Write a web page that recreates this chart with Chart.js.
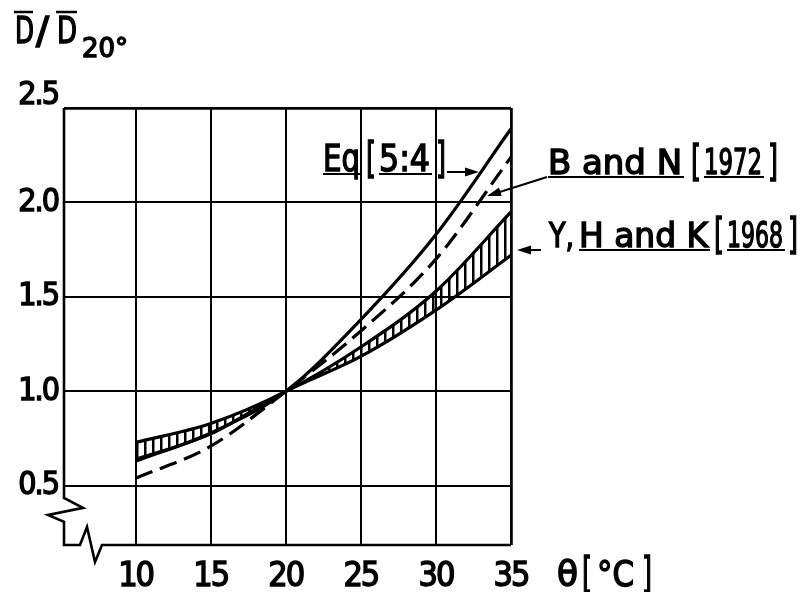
<!DOCTYPE html>
<html>
<head>
<meta charset="utf-8">
<script src="https://cdn.jsdelivr.net/npm/chart.js@4.4.1/dist/chart.umd.min.js"></script>
<style>
  html, body { margin: 0; padding: 0; background: #fff; }
</style>
</head>
<body>
<canvas id="chart" width="808" height="592"></canvas>
<script>
// temperature (°C) and D / D20 ratios
const temps = [10, 15, 20, 25, 30, 35];
const eqModel = [0.63, 0.78, 1.0, 1.38, 1.83, 2.39];     // Eq [5:4]
const bnValues = [0.54, 0.71, 1.0, 1.32, 1.70, 2.24];    // B and N [1972]
const yhkUpper = [0.73, 0.83, 1.0, 1.235, 1.53, 1.95];   // Y, H and K [1968] upper bound
const yhkLower = [0.64, 0.775, 1.0, 1.185, 1.43, 1.72];  // Y, H and K [1968] lower bound

const tempTicks = [10, 15, 20, 25, 30, 35];
const ratioTicks = [0.5, 1.0, 1.5, 2.0, 2.5];

const FONT = "'DejaVu Sans Condensed', 'DejaVu Sans', sans-serif";

function points(xs, ys) {
  return xs.map((x, i) => ({ x: x, y: ys[i] }));
}

// vertical hatching for the Y, H and K band
function makeHatch() {
  const c = document.createElement('canvas');
  c.width = 8; c.height = 8;
  const g = c.getContext('2d');
  g.fillStyle = '#000';
  g.fillRect(0, 0, 2.5, 8);
  return g.createPattern(c, 'repeat');
}

function arrow(ctx, x1, y1, x2, y2) {
  const a = Math.atan2(y2 - y1, x2 - x1);
  const len = 14, half = 4.5;
  ctx.beginPath();
  ctx.moveTo(x1, y1);
  ctx.lineTo(x2 - Math.cos(a) * len * 0.6, y2 - Math.sin(a) * len * 0.6);
  ctx.stroke();
  ctx.beginPath();
  ctx.moveTo(x2, y2);
  ctx.lineTo(x2 - Math.cos(a) * len - Math.sin(a) * half, y2 - Math.sin(a) * len + Math.cos(a) * half);
  ctx.lineTo(x2 - Math.cos(a) * len + Math.sin(a) * half, y2 - Math.sin(a) * len - Math.cos(a) * half);
  ctx.closePath();
  ctx.fill();
}

// text squeezed or stretched to run from x0 to x1, optionally underlined
function part(ctx, text, x0, x1, base, underline, size) {
  ctx.save();
  if (size) ctx.font = size + 'px ' + FONT;
  const w = ctx.measureText(text).width;
  ctx.lineWidth = 1.4;
  ctx.translate(x0, base);
  ctx.scale((x1 - x0) / w, 1);
  ctx.strokeText(text, 0, 0);
  ctx.fillText(text, 0, 0);
  ctx.restore();
  if (underline) {
    ctx.save();
    ctx.lineWidth = 2;
    ctx.beginPath();
    ctx.moveTo(x0, base + underline);
    ctx.lineTo(x1 + 2, base + underline);
    ctx.stroke();
    ctx.restore();
  }
}

// "[" and "]" drawn taller than the letters
function brackets(ctx, x0, x1, x2, x3, base) {
  part(ctx, '[', x0, x0 + 10, base + 2, 0, 42);
  part(ctx, ']', x3 - 10, x3, base + 2, 0, 42);
}

const decorations = {
  id: 'decorations',
  beforeDraw(chart) {
    chart.ctx.letterSpacing = '-2px';
  },
  afterDraw(chart) {
    const ctx = chart.ctx;
    const { left, right, bottom } = chart.chartArea;
    const y05 = chart.scales.y.getPixelForValue(0.5);

    ctx.save();
    ctx.letterSpacing = '0px';
    ctx.strokeStyle = '#000';
    ctx.fillStyle = '#000';
    ctx.lineWidth = 2.6;
    ctx.lineJoin = 'miter';

    // left axis with break, then bottom axis with break
    ctx.beginPath();
    ctx.moveTo(left, chart.chartArea.top);
    ctx.lineTo(left, y05 + 12);
    ctx.lineTo(left + 19, y05 + 22);
    ctx.lineTo(left - 16, y05 + 29);
    ctx.lineTo(left, y05 + 36);
    ctx.lineTo(left, bottom);
    ctx.lineTo(left + 16, bottom);
    ctx.lineTo(left + 23, bottom - 18);
    ctx.lineTo(left + 31, bottom + 17);
    ctx.lineTo(left + 38, bottom);
    ctx.lineTo(right, bottom);
    ctx.stroke();

    ctx.textBaseline = 'alphabetic';
    ctx.textAlign = 'left';

    // y axis title  D/D 20°
    ctx.font = '37px ' + FONT;
    part(ctx, 'D', 15, 34, 43);
    part(ctx, '/', 36, 49, 43);
    part(ctx, 'D', 57, 77, 43);
    ctx.lineWidth = 2.5;
    ctx.beginPath();
    ctx.moveTo(14, 12); ctx.lineTo(33, 12);
    ctx.moveTo(56, 12); ctx.lineTo(77, 12);
    ctx.stroke();
    ctx.font = '27px ' + FONT;
    part(ctx, '20°', 82, 128, 57);

    // x axis title
    ctx.font = '35px ' + FONT;
    part(ctx, 'θ', 557, 578, 586);
    part(ctx, '°C', 597, 634, 586);
    brackets(ctx, 582, 0, 0, 652, 586);

    // curve labels
    ctx.font = '37px ' + FONT;
    part(ctx, 'Eq', 323, 360, 171, 3);
    part(ctx, '5:4', 379, 430, 171, 3);
    brackets(ctx, 366, 0, 0, 446, 171);
    ctx.lineWidth = 2;
    arrow(ctx, 447, 172, 479, 172);

    ctx.font = '34px ' + FONT;
    part(ctx, 'B and N', 548, 682, 174, 3);
    part(ctx, '1972', 704, 762, 174, 3, 36);
    brackets(ctx, 691, 0, 0, 778, 174);
    arrow(ctx, 547, 177, 487, 196);

    part(ctx, 'Y,', 549, 574, 247);
    part(ctx, 'H and K', 579, 708, 247, 3);
    part(ctx, '1968', 727, 783, 247, 3, 36);
    brackets(ctx, 714, 0, 0, 798, 247);
    arrow(ctx, 541, 250, 517, 250);

    ctx.restore();
  }
};

const hatch = makeHatch();

const lineBase = {
  borderColor: '#000',
  borderWidth: 3.2,
  pointRadius: 0,
  cubicInterpolationMode: 'monotone',
  fill: false
};

// outer frame lines drawn a little heavier than the interior grid
const gridWidth = edge => c => (c.tick && c.tick.value === edge ? 2.8 : 2);

new Chart(document.getElementById('chart'), {
  type: 'line',
  data: {
    datasets: [
      Object.assign({}, lineBase, {
        label: 'Y, H and K [1968] upper',
        data: points(temps, yhkUpper),
        fill: '+1',
        backgroundColor: hatch
      }),
      Object.assign({}, lineBase, {
        label: 'Y, H and K [1968] lower',
        data: points(temps, yhkLower)
      }),
      Object.assign({}, lineBase, {
        label: 'Eq [5:4]',
        data: points(temps, eqModel)
      }),
      Object.assign({}, lineBase, {
        label: 'B and N [1972]',
        data: points(temps, bnValues),
        borderDash: [18, 8]
      })
    ]
  },
  options: {
    responsive: false,
    animation: false,
    devicePixelRatio: 1,
    layout: { padding: { top: 108, right: 297, left: 0, bottom: 0 } },
    plugins: {
      legend: { display: false },
      tooltip: { enabled: false }
    },
    scales: {
      x: {
        type: 'linear',
        min: 5.23,
        max: 35,
        afterBuildTicks: s => { s.ticks = tempTicks.map(v => ({ value: v })); },
        afterFit: s => { s.height = 47; },
        border: { display: false },
        grid: { color: '#000', lineWidth: gridWidth(35), drawTicks: false },
        ticks: {
          color: '#000',
          font: { family: FONT, size: 34 },
          textStrokeColor: '#000',
          textStrokeWidth: 1.4,
          padding: 12,
          autoSkip: false,
          maxRotation: 0,
          callback: v => String(v)
        }
      },
      y: {
        type: 'linear',
        min: 0.187,
        max: 2.5,
        afterBuildTicks: s => { s.ticks = ratioTicks.map(v => ({ value: v })); },
        afterFit: s => { s.width = 64; },
        border: { display: false },
        grid: { color: '#000', lineWidth: gridWidth(2.5), drawTicks: false },
        ticks: {
          color: '#000',
          font: { family: FONT, size: 32, lineHeight: 0.75 },
          textStrokeColor: '#000',
          textStrokeWidth: 1.4,
          padding: 6,
          // top label sits above its grid line
          callback: v => v === 2.5 ? ['2.5', ''] : v.toFixed(1)
        }
      }
    }
  },
  plugins: [decorations]
});
</script>
</body>
</html>
